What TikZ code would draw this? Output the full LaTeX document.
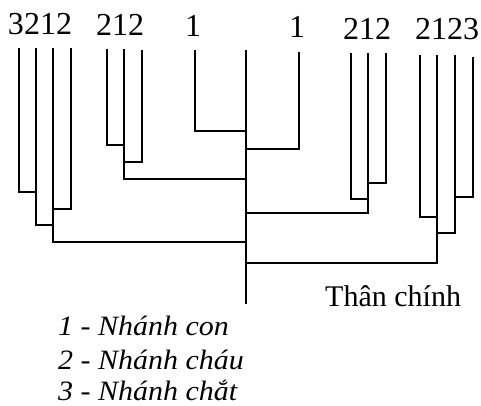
\documentclass[tikz,border=0pt]{standalone}
\usepackage{fontspec}
\setmainfont{Liberation Serif}
\newfontfamily\legfont{Liberation Serif}[FakeStretch=1.07]
\begin{document}
\begin{tikzpicture}[x=1pt,y=-1pt,
  branch/.style={line width=1.3pt, line join=miter},
  lab/.style={anchor=base, inner sep=0pt, font=\fontsize{32}{32}\selectfont},
  legend/.style={anchor=base west, inner sep=0pt, font=\legfont\fontsize{28}{28}\selectfont\itshape},
  stem/.style={anchor=base west, inner sep=0pt, font=\fontsize{30}{30}\selectfont}]
\useasboundingbox (0,0) rectangle (481,406);
% trunk
\coordinate (T0) at (246,50);
\coordinate (T1) at (246,304);
\draw[branch] (T0) -- (T1);
% left group 3212
\coordinate (a1) at (19,48); \coordinate (a2) at (36,48);
\coordinate (a3) at (53,48); \coordinate (a4) at (71,48);
\coordinate (ja1) at (36,192); \coordinate (ja2) at (53,225);
\coordinate (ja3) at (53,209); \coordinate (ja4) at (246,242);
\draw[branch] (a1) |- (ja1);
\draw[branch] (a2) |- (ja2);
\draw[branch] (a4) |- (ja3);
\draw[branch] (a3) |- (ja4);
% left group 212
\coordinate (b1) at (107,49); \coordinate (b2) at (124,49); \coordinate (b3) at (142,50);
\coordinate (jb1) at (124,145); \coordinate (jb2) at (124,162); \coordinate (jb3) at (246,179);
\draw[branch] (b1) |- (jb1);
\draw[branch] (b3) |- (jb2);
\draw[branch] (b2) |- (jb3);
% the two 1's
\coordinate (c1) at (195,50); \coordinate (jc1) at (246,131);
\draw[branch] (c1) |- (jc1);
\coordinate (d1) at (299,52); \coordinate (jd1) at (246,149);
\draw[branch] (d1) |- (jd1);
% right group 212
\coordinate (e1) at (351,53); \coordinate (e2) at (368,53); \coordinate (e3) at (386,53);
\coordinate (je1) at (368,199); \coordinate (je2) at (368,183); \coordinate (je3) at (246,213);
\draw[branch] (e1) |- (je1);
\draw[branch] (e3) |- (je2);
\draw[branch] (e2) |- (je3);
% right group 2123
\coordinate (f1) at (420,55); \coordinate (f2) at (437,55);
\coordinate (f3) at (455,55); \coordinate (f4) at (473,57);
\coordinate (jf1) at (437,217); \coordinate (jf2) at (455,197);
\coordinate (jf3) at (437,233); \coordinate (jf4) at (246,263);
\draw[branch] (f1) |- (jf1);
\draw[branch] (f4) |- (jf2);
\draw[branch] (f3) |- (jf3);
\draw[branch] (f2) |- (jf4);
% labels
\node[lab] (la) at (40,35) {3212};
\node[lab] (lb) at (120,36) {212};
\node[lab] (lc) at (193,37) {1};
\node[lab] (ld) at (297,38) {1};
\node[lab] (le) at (367,40) {212};
\node[lab] (lf) at (447,40) {2123};
\node[stem] (stem) at (325,306) {Thân chính};
\node[legend] (g1) at (58,335) {1 - Nhánh con};
\node[legend] (g2) at (58,369) {2 - Nhánh cháu};
\node[legend] (g3) at (58,400) {3 - Nhánh chắt};
\end{tikzpicture}
\end{document}
